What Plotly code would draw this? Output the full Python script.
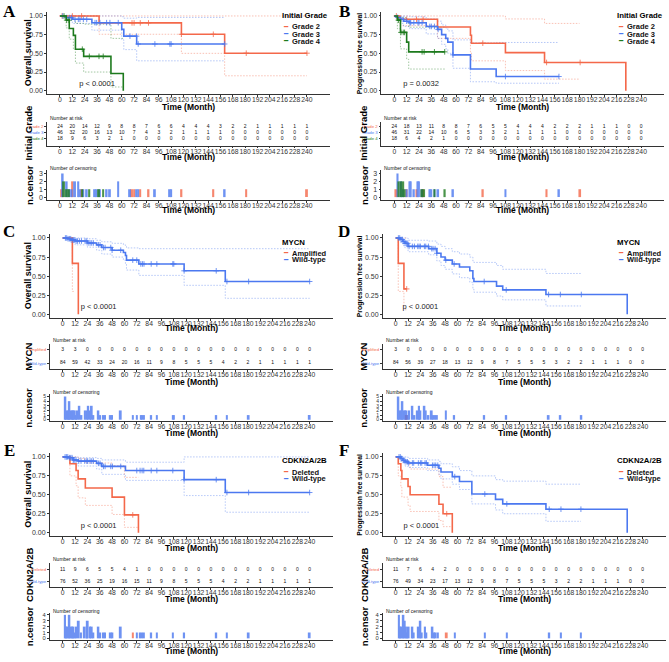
import plotly.graph_objects as go

W, H = 669, 662
FONT = "Liberation Sans, Arial, sans-serif"
RED = "#F4684A"
BLUE = "#4B78F0"
GREEN = "#1D7A1D"

TIME_TICKS = list(range(0, 241, 12))

# ---------------- Panel A : OS by initial grade ----------------
A_G2_t = [0, 38, 118, 160, 240]
A_G2_s = [1, 0.907, 0.755, 0.502, 0.502]
A_G2_lo = [1, 0.755, 0.50, 0.20, 0.20]
A_G2_hi = [1, 1, 1, 1, 1]
A_G2_ct = [2, 12, 21, 70, 72, 78, 86, 118, 149, 181, 240]
A_G2_cn = [1, 2, 1, 1, 1, 1, 1, 1, 1, 1, 1]
A_G2_risk = [24, 20, 14, 12, 9, 8, 8, 7, 6, 6, 4, 4, 4, 3, 2, 2, 1, 1, 1, 1, 1]

A_G3_t = [0, 6, 12, 31, 60, 62, 74.5, 160]
A_G3_s = [1, 0.978, 0.955, 0.91, 0.82, 0.73, 0.625, 0.625]
A_G3_lo = [1, 0.94, 0.90, 0.81, 0.68, 0.55, 0.40, 0.40]
A_G3_hi = [1, 1, 1, 1, 0.99, 0.97, 0.98, 0.98]
A_G3_ct = [2.6, 6.5, 9, 11.3, 14.6, 17.8, 19.4, 22.7, 26, 34, 35.6, 38.8, 45.3, 48.5, 56.6, 68, 74.4, 76, 92.2, 106.8, 108, 160]
A_G3_cn = [3, 2, 1, 1, 2, 2, 1, 1, 1, 1, 1, 1, 1, 1, 2, 1, 1, 1, 1, 1, 1, 1]
A_G3_risk = [46, 32, 20, 16, 13, 10, 7, 4, 3, 2, 1, 1, 1, 1, 0, 0, 0, 0, 0, 0, 0]

A_G4_t = [0, 6, 9, 13, 15, 23, 49.5, 61.5]
A_G4_s = [1, 0.944, 0.833, 0.74, 0.555, 0.46, 0.23, 0]
A_G4_lo = [1, 0.84, 0.69, 0.56, 0.37, 0.25, 0.05, 0.05]
A_G4_hi = [1, 1, 0.99, 0.95, 0.90, 0.89, 0.70, 0.70]
A_G4_ct = [3.9, 6.5, 8.7, 21.7, 28.5, 37.9, 42]
A_G4_cn = [2, 1, 1, 1, 1, 1, 1]
A_G4_risk = [18, 9, 6, 3, 2, 1, 0, 0, 0, 0, 0, 0, 0, 0, 0, 0, 0, 0, 0, 0, 0]

# ---------------- Panel B : PFS by initial grade ----------------
B_G2_t = [0, 5.5, 42, 74, 75, 108, 146, 180, 225]
B_G2_s = [1, 0.955, 0.853, 0.742, 0.636, 0.51, 0.378, 0.378, 0]
B_G2_lo = [1, 0.87, 0.70, 0.52, 0.40, 0.27, 0.155, 0.155, None]
B_G2_hi = [1, 1, 1, 1, 1, 0.96, 0.90, 0.90, None]
B_G2_ct = [2, 12, 21.6, 28, 86, 148, 180.6]
B_G2_cn = [1, 1, 1, 1, 1, 1, 1]
B_G2_risk = [24, 18, 13, 11, 8, 8, 7, 6, 5, 5, 4, 4, 4, 2, 2, 2, 1, 1, 1, 0, 0]

B_G3_t = [0, 3, 6, 9, 15, 31, 42, 46, 50, 52, 57, 74, 99, 160]
B_G3_s = [1, 0.98, 0.955, 0.93, 0.91, 0.86, 0.82, 0.75, 0.70, 0.65, 0.48, 0.29, 0.19, 0.19]
B_G3_lo = [1, 0.94, 0.90, 0.86, 0.83, 0.76, 0.70, 0.62, 0.56, 0.50, 0.30, 0.12, 0.10, 0.10]
B_G3_hi = [1, 1, 1, 1, 0.99, 0.96, 0.93, 0.88, 0.84, 0.80, 0.68, 0.64, 0.645, 0.645]
B_G3_ct = [3.2, 6.5, 8.7, 12, 15.2, 16, 19, 23, 24, 27, 34.5, 36, 39, 42.6, 57, 108, 160]
B_G3_cn = [3, 2, 1, 1, 2, 2, 1, 2, 2, 1, 1, 1, 1, 1, 1, 1, 1]
B_G3_risk = [46, 31, 22, 14, 10, 6, 5, 3, 3, 2, 1, 1, 1, 1, 0, 0, 0, 0, 0, 0, 0]

B_G4_t = [0, 3, 6, 12, 14, 49]
B_G4_s = [1, 0.944, 0.78, 0.65, 0.52, 0.52]
B_G4_lo = [1, 0.83, 0.56, 0.42, 0.29, 0.29]
B_G4_hi = [1, 1, 0.98, 0.93, 0.85, 0.85]
B_G4_ct = [4, 6.5, 8.7, 10, 27, 29, 39, 49]
B_G4_cn = [2, 2, 2, 1, 1, 1, 1, 1]
B_G4_risk = [18, 6, 4, 2, 1, 0, 0, 0, 0, 0, 0, 0, 0, 0, 0, 0, 0, 0, 0, 0, 0]

# ---------------- Panel C : OS by MYCN ----------------
C_AM_t = [0, 9.4, 11, 15.2]
C_AM_s = [1, 0.667, 0.667, 0]
C_AM_lo = [1, 0.30, 0.30, None]
C_AM_hi = [1, 1, 1, None]
C_AM_ct = []
C_AM_cn = []
C_AM_risk = [3, 3, 0, 0, 0, 0, 0, 0, 0, 0, 0, 0, 0, 0, 0, 0, 0, 0, 0, 0, 0]

C_WT_t = [0, 5, 8, 12, 24, 33, 38, 48, 59, 61, 62, 74, 118, 158, 240]
C_WT_s = [1, 0.99, 0.975, 0.96, 0.935, 0.91, 0.875, 0.84, 0.81, 0.77, 0.71, 0.66, 0.57, 0.43, 0.43]
C_WT_lo = [1, 0.97, 0.94, 0.91, 0.88, 0.84, 0.79, 0.75, 0.71, 0.66, 0.58, 0.51, 0.38, 0.21, 0.21]
C_WT_hi = [1, 1, 1, 1, 0.99, 0.97, 0.95, 0.93, 0.91, 0.89, 0.87, 0.86, 0.86, 0.86, 0.86]
C_WT_ct = [2.6, 3.9, 5.2, 6.5, 7.8, 9.1, 10.4, 11.7, 13, 14.3, 16.2, 18.2, 21.7, 23.4, 24.7, 26.6, 28.2, 29.8,
           34.7, 36.3, 39.6, 41.2, 46.7, 48, 56.4, 68.1, 72, 75.9, 77.5, 79, 86, 91.5, 107, 108, 118, 149.2,
           159.6, 180.7, 240]
C_WT_cn = [5, 2, 2, 4, 2, 2, 2, 2, 1, 2, 3, 1, 2, 2, 3, 2, 3, 1, 2, 1, 1, 1, 1, 1, 2, 1, 1, 1, 1, 1, 1, 1,
           1, 1, 1, 1, 1, 1, 1]
C_WT_risk = [84, 59, 42, 33, 24, 20, 16, 11, 9, 8, 5, 5, 5, 4, 2, 2, 1, 1, 1, 1, 1]

# ---------------- Panel D : PFS by MYCN ----------------
D_AM_t = [0, 2.5, 8, 10.7]
D_AM_s = [1, 0.667, 0.333, 0.333]
D_AM_lo = [1, 0.30, 0.06, 0.06]
D_AM_hi = [1, 1, 1, 1]
D_AM_ct = [10.7]
D_AM_cn = [1]
D_AM_risk = [3, 0, 0, 0, 0, 0, 0, 0, 0, 0, 0, 0, 0, 0, 0, 0, 0, 0, 0, 0, 0]

D_WT_t = [0, 5, 7, 9, 12, 32, 40, 44, 48, 55, 62, 72, 75, 76, 98, 104, 146, 180, 225]
D_WT_s = [1, 0.98, 0.955, 0.93, 0.89, 0.86, 0.80, 0.75, 0.71, 0.66, 0.62, 0.57, 0.47, 0.43, 0.37, 0.32, 0.26, 0.26, 0]
D_WT_lo = [1, 0.94, 0.90, 0.87, 0.82, 0.78, 0.70, 0.64, 0.59, 0.53, 0.48, 0.42, 0.33, 0.29, 0.24, 0.19, 0.11, 0.11, None]
D_WT_hi = [1, 1, 1, 1, 0.97, 0.96, 0.92, 0.89, 0.86, 0.82, 0.79, 0.75, 0.70, 0.68, 0.64, 0.59, 0.535, 0.535, None]
D_WT_ct = [2.6, 3.9, 5.2, 6.5, 7.8, 9.1, 10.4, 11.7, 13, 16.2, 18.2, 21.4, 22.7, 24, 27.9, 29.2, 31.8, 35,
           36.3, 38.3, 40, 48.7, 56.8, 86, 107.4, 148.6, 160, 180.4]
D_WT_cn = [5, 2, 2, 4, 2, 2, 2, 1, 2, 3, 1, 2, 3, 2, 3, 2, 1, 2, 1, 1, 1, 2, 1, 1, 1, 1, 1, 1]
D_WT_risk = [84, 56, 39, 27, 18, 13, 12, 9, 8, 7, 5, 5, 5, 3, 2, 2, 1, 1, 1, 0, 0]

# ---------------- Panel E : OS by CDKN2A/2B ----------------
E_DE_t = [0, 7, 13, 15, 22, 48, 60, 73.6]
E_DE_s = [1, 0.91, 0.82, 0.71, 0.59, 0.47, 0.235, 0]
E_DE_lo = [1, 0.75, 0.62, 0.46, 0.36, 0.24, 0.07, 0.07]
E_DE_hi = [1, 1, 1, 0.98, 0.92, 0.885, 0.73, 0.73]
E_DE_ct = [68.1]
E_DE_cn = [1]
E_DE_risk = [11, 9, 6, 5, 5, 4, 1, 0, 0, 0, 0, 0, 0, 0, 0, 0, 0, 0, 0, 0, 0]

E_WT_t = [0, 5, 10, 15, 33, 38, 61, 118, 158, 240]
E_WT_s = [1, 0.99, 0.96, 0.945, 0.915, 0.875, 0.82, 0.70, 0.53, 0.53]
E_WT_lo = [1, 0.97, 0.91, 0.88, 0.84, 0.77, 0.69, 0.49, 0.27, 0.27]
E_WT_hi = [1, 1, 1, 0.99, 0.98, 0.96, 0.93, 1, 1, 1]
E_WT_ct = [2.3, 3.6, 4.9, 6.5, 7.8, 9.1, 10.4, 11.7, 13, 15.6, 17.8, 21.4, 23.4, 24.3, 26.6, 28.2, 29.8,
           34.7, 36.3, 39.6, 41.2, 46.7, 48.3, 56.4, 72, 75.2, 77.2, 78.8, 86, 91.5, 107, 118, 149.2, 159.6,
           180.7, 240]
E_WT_cn = [4, 2, 2, 4, 2, 2, 2, 1, 2, 3, 1, 2, 2, 3, 2, 2, 1, 2, 1, 1, 1, 1, 1, 2, 1, 1, 1, 1, 1, 1, 1, 1,
           1, 1, 1, 1]
E_WT_risk = [76, 52, 36, 25, 19, 16, 15, 11, 9, 8, 5, 5, 5, 4, 2, 2, 1, 1, 1, 1, 1]

# ---------------- Panel F : PFS by CDKN2A/2B ----------------
F_DE_t = [0, 2.5, 5, 6, 12, 14, 42, 46, 55]
F_DE_s = [1, 0.91, 0.82, 0.71, 0.61, 0.50, 0.375, 0.25, 0]
F_DE_lo = [1, 0.75, 0.60, 0.47, 0.36, 0.28, 0.16, 0.08, 0.08]
F_DE_hi = [1, 1, 0.99, 0.95, 0.90, 0.84, 0.74, 0.60, 0.60]
F_DE_ct = [49.6]
F_DE_cn = [1]
F_DE_risk = [11, 7, 6, 4, 2, 0, 0, 0, 0, 0, 0, 0, 0, 0, 0, 0, 0, 0, 0, 0, 0]

F_WT_t = [0, 5, 7, 9, 12, 31, 42, 44, 55, 62, 74, 97, 104, 146, 180, 225]
F_WT_s = [1, 0.98, 0.955, 0.935, 0.92, 0.89, 0.85, 0.80, 0.74, 0.675, 0.51, 0.44, 0.38, 0.31, 0.31, 0]
F_WT_lo = [1, 0.94, 0.91, 0.88, 0.86, 0.82, 0.77, 0.71, 0.64, 0.57, 0.38, 0.30, 0.25, 0.15, 0.15, None]
F_WT_hi = [1, 1, 1, 1, 0.98, 0.96, 0.94, 0.91, 0.87, 0.82, 0.75, 0.70, 0.68, 0.64, 0.64, None]
F_WT_ct = [3.2, 4.5, 5.8, 7.5, 8.8, 10, 11.4, 12.6, 16.2, 17.5, 22, 24, 25.3, 28.5, 29.8, 35.7, 37.3, 38.9,
           40.9, 57.4, 86.6, 108, 149.2, 160.6, 180]
F_WT_cn = [4, 2, 2, 4, 3, 2, 1, 2, 2, 1, 2, 3, 1, 2, 1, 2, 1, 1, 1, 1, 1, 1, 1, 1, 1]
F_WT_risk = [76, 49, 34, 23, 17, 13, 12, 9, 8, 7, 5, 5, 5, 3, 2, 2, 1, 1, 1, 0, 0]

GROUPS = {
    "A": [("Grade 2", RED, A_G2_t, A_G2_s, A_G2_lo, A_G2_hi, A_G2_ct, A_G2_cn, A_G2_risk),
          ("Grade 3", BLUE, A_G3_t, A_G3_s, A_G3_lo, A_G3_hi, A_G3_ct, A_G3_cn, A_G3_risk),
          ("Grade 4", GREEN, A_G4_t, A_G4_s, A_G4_lo, A_G4_hi, A_G4_ct, A_G4_cn, A_G4_risk)],
    "B": [("Grade 2", RED, B_G2_t, B_G2_s, B_G2_lo, B_G2_hi, B_G2_ct, B_G2_cn, B_G2_risk),
          ("Grade 3", BLUE, B_G3_t, B_G3_s, B_G3_lo, B_G3_hi, B_G3_ct, B_G3_cn, B_G3_risk),
          ("Grade 4", GREEN, B_G4_t, B_G4_s, B_G4_lo, B_G4_hi, B_G4_ct, B_G4_cn, B_G4_risk)],
    "C": [("Amplified", RED, C_AM_t, C_AM_s, C_AM_lo, C_AM_hi, C_AM_ct, C_AM_cn, C_AM_risk),
          ("Wild-type", BLUE, C_WT_t, C_WT_s, C_WT_lo, C_WT_hi, C_WT_ct, C_WT_cn, C_WT_risk)],
    "D": [("Amplified", RED, D_AM_t, D_AM_s, D_AM_lo, D_AM_hi, D_AM_ct, D_AM_cn, D_AM_risk),
          ("Wild-type", BLUE, D_WT_t, D_WT_s, D_WT_lo, D_WT_hi, D_WT_ct, D_WT_cn, D_WT_risk)],
    "E": [("Deleted", RED, E_DE_t, E_DE_s, E_DE_lo, E_DE_hi, E_DE_ct, E_DE_cn, E_DE_risk),
          ("Wild-type", BLUE, E_WT_t, E_WT_s, E_WT_lo, E_WT_hi, E_WT_ct, E_WT_cn, E_WT_risk)],
    "F": [("Deleted", RED, F_DE_t, F_DE_s, F_DE_lo, F_DE_hi, F_DE_ct, F_DE_cn, F_DE_risk),
          ("Wild-type", BLUE, F_WT_t, F_WT_s, F_WT_lo, F_WT_hi, F_WT_ct, F_WT_cn, F_WT_risk)],
}

PANELS = [
    dict(key="A", col=0, row=0, x0=60.0, ytitle="Overall survival", ytsize=9, strata="Initial Grade",
         pval="p &lt; 0.0001", pvx=36, pvy=0.09, cmax=3),
    dict(key="B", col=1, row=0, x0=394.3, ytitle="Progression free survival", ytsize=6.8, strata="Initial Grade",
         pval="p = 0.0032", pvx=26, pvy=0.09, cmax=3),
    dict(key="C", col=0, row=1, x0=62.7, ytitle="Overall survival", ytsize=9, strata="MYCN",
         pval="p &lt; 0.0001", pvx=35, pvy=0.09, cmax=5),
    dict(key="D", col=1, row=1, x0=395.7, ytitle="Progression free survival", ytsize=6.8, strata="MYCN",
         pval="p &lt; 0.0001", pvx=24, pvy=0.09, cmax=5),
    dict(key="E", col=0, row=2, x0=62.7, ytitle="Overall survival", ytsize=9, strata="CDKN2A/2B",
         pval="p &lt; 0.0001", pvx=35, pvy=0.09, cmax=4),
    dict(key="F", col=1, row=2, x0=395.7, ytitle="Progression free survival", ytsize=6.8, strata="CDKN2A/2B",
         pval="p &lt; 0.0001", pvx=25, pvy=0.09, cmax=4),
]

# pixel geometry of the three rows of panels
ROW_GEOM = [
    dict(km_one=15, km_zero=90, km_title=106.7, letter=11,
         risk_top=121, risk_bot=145, risk_first=125.7, risk_last=138, risk_label=117, risk_title=156.7,
         cen_top=170, cen_bot=199.3, cen_max=173, cen_zero=196.7, cen_label=167.7, cen_title=210,
         cen_font=7, leg_title=15, leg_y0=26, leg_dy=7.2),
    dict(km_one=237.7, km_zero=314.3, km_title=328.3, letter=231,
         risk_top=344, risk_bot=369.5, risk_first=350, risk_last=363.3, risk_label=340, risk_title=381.7,
         cen_top=394.5, cen_bot=421.7, cen_max=396.7, cen_zero=420, cen_label=391.7, cen_title=433,
         cen_font=5, leg_title=242.7, leg_y0=253, leg_dy=6.7),
    dict(km_one=457.3, km_zero=533.3, km_title=548.3, letter=451,
         risk_top=564, risk_bot=587.5, risk_first=570, risk_last=582.7, risk_label=560, risk_title=600,
         cen_top=613.5, cen_bot=641, cen_max=615.7, cen_zero=639.3, cen_label=611.7, cen_title=651.7,
         cen_font=5.8, leg_title=460.7, leg_y0=472.5, leg_dy=6.7),
]

S = 1.029           # px per month
XR = [-12.5, 262.5]  # x range (months)
AXC = "#333333"

fig = go.Figure()
layout_axes = {}
annotations = []


def ann(text, xpx, ypx, size, bold=False, angle=0, xanchor="center", yanchor="middle",
        color="#000000", family=FONT):
    annotations.append(dict(text=f"<b>{text}</b>" if bold else text, x=xpx / W, y=1 - ypx / H,
                            xref="paper", yref="paper", showarrow=False, textangle=angle,
                            xanchor=xanchor, yanchor=yanchor,
                            font=dict(size=size, color=color, family=family)))


def set_axes(n, xpx, ypx, yrange, yvals, ytext, ysize):
    xa = dict(domain=[xpx[0] / W, xpx[1] / W], range=XR, anchor=f"y{n}",
              tickmode="array", tickvals=TIME_TICKS, ticktext=[str(v) for v in TIME_TICKS],
              tickangle=0, tickfont=dict(size=6.8, color=AXC, family=FONT), ticklabelstandoff=-3,
              showline=True, linecolor=AXC, linewidth=0.7, ticks="outside", ticklen=2,
              tickwidth=0.6, tickcolor=AXC, showgrid=False, zeroline=False, fixedrange=True)
    ya = dict(domain=[1 - ypx[1] / H, 1 - ypx[0] / H], range=yrange, anchor=f"x{n}",
              tickmode="array", tickvals=yvals, ticktext=ytext,
              tickfont=dict(size=ysize, color=AXC, family=FONT),
              showline=True, linecolor=AXC, linewidth=0.7, ticks="outside", ticklen=2,
              tickwidth=0.6, tickcolor=AXC, showgrid=False, zeroline=False, fixedrange=True)
    layout_axes["xaxis" if n == 1 else f"xaxis{n}"] = xa
    layout_axes["yaxis" if n == 1 else f"yaxis{n}"] = ya


def step_at(ts, ss, x):
    v = ss[0]
    for t, s in zip(ts, ss):
        if t <= x:
            v = s
        else:
            break
    return v


for idx, p in enumerate(PANELS):
    g = ROW_GEOM[p["row"]]
    groups = GROUPS[p["key"]]
    xoff = 335 * p["col"]
    x0 = p["x0"]
    xl, xr = x0 + XR[0] * S, x0 + XR[1] * S
    xc = x0 + 125 * S
    n1, n2, n3 = idx * 3 + 1, idx * 3 + 2, idx * 3 + 3
    ax = lambda n: ("x" if n == 1 else f"x{n}", "y" if n == 1 else f"y{n}")

    # ---- KM plot ----
    h = g["km_zero"] - g["km_one"]
    set_axes(n1, (xl, xr), (g["km_one"] - 0.05 * h, g["km_zero"] + 0.05 * h), [-0.05, 1.05],
             [0, 0.25, 0.5, 0.75, 1], ["0.00", "0.25", "0.50", "0.75", "1.00"], 7)
    xa, ya = ax(n1)
    for name, col, t, s, lo, hi, ct, cn, risk in groups:
        for band in (lo, hi):
            fig.add_trace(go.Scatter(x=t, y=band, mode="lines", xaxis=xa, yaxis=ya, opacity=0.5,
                                     line=dict(color=col, width=0.8, dash="1.5px,1.5px", shape="hv"),
                                     hoverinfo="skip", connectgaps=False))
    for name, col, t, s, lo, hi, ct, cn, risk in groups:
        fig.add_trace(go.Scatter(x=t, y=s, mode="lines", xaxis=xa, yaxis=ya, name=name,
                                 line=dict(color=col, width=1.6, shape="hv")))
        if ct:
            fig.add_trace(go.Scatter(x=ct, y=[step_at(t, s, c) for c in ct], mode="markers",
                                     xaxis=xa, yaxis=ya, hoverinfo="skip",
                                     marker=dict(symbol="cross-thin-open", size=4, color=col,
                                                 line=dict(color=col, width=0.8))))
    fig.add_trace(go.Scatter(x=[p["pvx"]], y=[p["pvy"]], mode="text", text=[p["pval"]],
                             textfont=dict(size=7.5, color="#222", family=FONT), xaxis=xa, yaxis=ya,
                             hoverinfo="skip"))
    ann(p["ytitle"], xoff + (25 if p["ytsize"] < 8 else 28), (g["km_one"] + g["km_zero"]) / 2,
        p["ytsize"], bold=True, angle=-90)
    ann("Time (Month)", xc, g["km_title"], 8.5, bold=True)
    ann(p["key"], xoff + 9, g["letter"], 17, bold=True, family="Liberation Serif, Times New Roman, serif")

    # legend (inside the KM panel, top right)
    ann(p["strata"], xoff + 280, g["leg_title"], 7.8, bold=True, xanchor="left")
    for i, (name, col, *_rest) in enumerate(groups):
        yy = g["leg_y0"] + i * g["leg_dy"]
        ann("━", xoff + 280.5, yy, 7, xanchor="left", color=col, family="DejaVu Sans")
        ann(name, xoff + 289.5, yy, 7.5, bold=True, xanchor="left", color="#111")

    # ---- risk table ----
    ng = len(groups)
    d = (g["risk_last"] - g["risk_first"]) / (ng - 1)
    rlo = 1 - (g["risk_bot"] - g["risk_last"]) / d
    rhi = ng + (g["risk_first"] - g["risk_top"]) / d
    set_axes(n2, (xl, xr), (g["risk_top"], g["risk_bot"]), [rlo, rhi],
             [ng - i for i in range(ng)],
             [f'<span style="color:{grp[1]}">{grp[0]}</span>' for grp in groups], 4.3)
    xa, ya = ax(n2)
    for i, (name, col, t, s, lo, hi, ct, cn, risk) in enumerate(groups):
        fig.add_trace(go.Scatter(x=TIME_TICKS, y=[ng - i] * len(TIME_TICKS), mode="text",
                                 text=[str(v) for v in risk], xaxis=xa, yaxis=ya, hoverinfo="skip",
                                 textfont=dict(size=5, color="#111", family=FONT)))
    ann("Number at risk", xl + 1, g["risk_label"], 5, xanchor="left", color="#111")
    ann(p["strata"], xoff + 29, (g["risk_top"] + g["risk_bot"]) / 2, 9.5, bold=True, angle=-90)
    ann("Time (Month)", xc, g["risk_title"], 8.5, bold=True)

    # ---- censoring plot ----
    cm = p["cmax"]
    per = (g["cen_zero"] - g["cen_max"]) / cm
    clo = -(g["cen_bot"] - g["cen_zero"]) / per
    chi = cm + (g["cen_max"] - g["cen_top"]) / per
    set_axes(n3, (xl, xr), (g["cen_top"], g["cen_bot"]), [clo, chi],
             list(range(cm + 1)), [str(v) for v in range(cm + 1)], g["cen_font"])
    xa, ya = ax(n3)
    for name, col, t, s, lo, hi, ct, cn, risk in groups:
        if ct:
            fig.add_trace(go.Bar(x=ct, y=cn, width=1.8, xaxis=xa, yaxis=ya, opacity=0.8,
                                 marker=dict(color=col, line=dict(width=0)), hoverinfo="skip"))
    ann("Number of censoring", xl + 1, g["cen_label"], 5, xanchor="left", color="#111")
    ann("n.censor", xoff + 29, (g["cen_top"] + g["cen_bot"]) / 2, 9.5, bold=True, angle=-90)
    ann("Time (Month)", xc, g["cen_title"], 8.5, bold=True)

fig.update_layout(
    width=W, height=H, margin=dict(l=0, r=0, t=0, b=0),
    paper_bgcolor="white", plot_bgcolor="white", showlegend=False, barmode="overlay",
    font=dict(family=FONT, color="#222"), annotations=annotations, **layout_axes,
)

fig.write_html("out.html", config={"displayModeBar": False},
               post_script="document.body.style.margin='0px';document.body.style.overflow='hidden';")
